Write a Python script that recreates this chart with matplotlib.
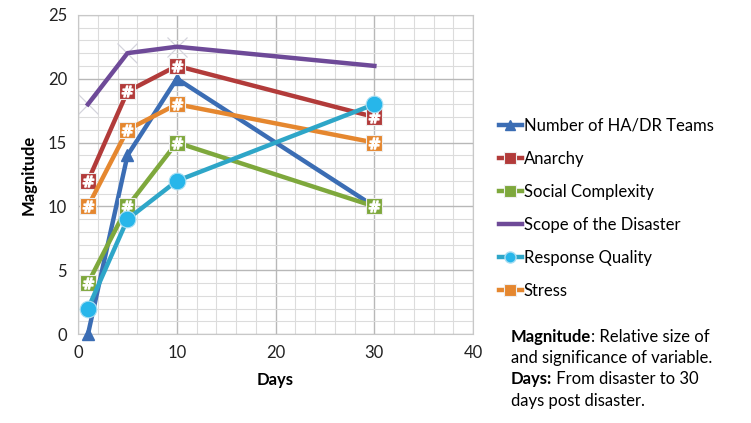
import matplotlib.pyplot as plt
from matplotlib.lines import Line2D

plt.rcParams['font.family'] = ['Lato', 'DejaVu Sans']

days = [1, 5, 10, 30]
teams = [0, 14, 20, 10]
anarchy = [12, 19, 21, 17]
social = [4, 10, 15, 10]
scope = [18, 22, 22.5, 21]
response = [2, 9, 12, 18]
stress = [10, 16, 18, 15]

names = ["Number of HA/DR Teams", "Anarchy", "Social Complexity",
         "Scope of the Disaster", "Response Quality", "Stress"]
colors = ["#3b6db4", "#b23b3a", "#7ea83c", "#6e4a98", "#2ea6c8", "#e5872f"]

fig = plt.figure(figsize=(7.51, 4.23), dpi=100)
ax = fig.add_axes([0.104, 0.21, 0.526, 0.755])

lw = 3.2
# teams: triangles
ax.plot(days, teams, color=colors[0], lw=lw, marker='^', ms=9, zorder=3, clip_on=False)

# square markers with a white '#' on top
for vals, c, z in [(anarchy, colors[1], 4), (social, colors[2], 3), (stress, colors[5], 4)]:
    ax.plot(days, vals, color=c, lw=lw, marker='s', ms=11, mec='#eeeeee', mew=0.8, zorder=z)
    ax.plot(days, vals, ls='none', marker='$\\#$', ms=8, color='white', zorder=z + 0.1)

ax.plot(days, scope, color=colors[3], lw=lw, zorder=2)
ax.plot(days[:3], scope[:3], ls='none', marker='x', ms=14, mec='#d4d4dc', mew=0.9, zorder=1.9)
ax.plot(days, response, color=colors[4], lw=lw, marker='o', ms=12, mfc='#27b6ea',
        mec='#a9def2', mew=0.8, zorder=5, clip_on=False)

handles = []
for i, c in enumerate(colors):
    if i == 0:
        h = Line2D([], [], color=c, lw=lw, marker='^', ms=7)
    elif i == 3:
        h = Line2D([], [], color=c, lw=lw)
    elif i == 4:
        h = Line2D([], [], color=c, lw=lw, marker='o', ms=8, mfc='#27b6ea', mec='#a9def2')
    else:
        h = Line2D([], [], color=c, lw=lw, marker='s', ms=8, mec='#eeeeee', mew=0.8)
    handles.append(h)

ax.set_xlim(0, 40)
ax.set_ylim(0, 25)
ax.set_xticks([0, 10, 20, 30, 40])
ax.set_yticks([0, 5, 10, 15, 20, 25])
ax.set_xticks(range(0, 41, 2), minor=True)
ax.set_yticks(range(0, 26, 1), minor=True)
ax.grid(which='major', color='#b8b8b8', lw=1)
ax.grid(which='minor', color='#dcdcdc', lw=0.8)
ax.tick_params(which='both', length=0, labelsize=12, pad=8)
for s in ax.spines.values():
    s.set_color('#c8c8c8')
ax.set_axisbelow(True)
for lab in ax.get_xticklabels() + ax.get_yticklabels():
    lab.set_color('#222222')

ax.set_xlabel("Days", fontsize=12, fontweight='bold', labelpad=8)
ax.set_ylabel("Magnitude", fontsize=12, fontweight='bold', labelpad=8)

fig.legend(handles, names, loc='upper left', bbox_to_anchor=(0.655, 0.738),
           frameon=False, fontsize=12, handlelength=1.4, handletextpad=0.1,
           labelspacing=1.03, borderaxespad=0)

# note text, bold words followed by regular text
lines = [("Magnitude", ": Relative size of", 0.203),
         ("", "and significance of variable.", 0.153),
         ("Days:", " From disaster to 30", 0.103),
         ("", "days post disaster.", 0.053)]
fig.canvas.draw()
r = fig.canvas.get_renderer()
for bold, rest, y in lines:
    x = 0.68
    if bold:
        t = fig.text(x, y, bold, fontsize=12, fontweight='bold', va='center')
        bb = t.get_window_extent(renderer=r)
        x = bb.x1 / fig.bbox.width
    fig.text(x, y, rest, fontsize=12, va='center')

fig.savefig("out.png", dpi=100)
